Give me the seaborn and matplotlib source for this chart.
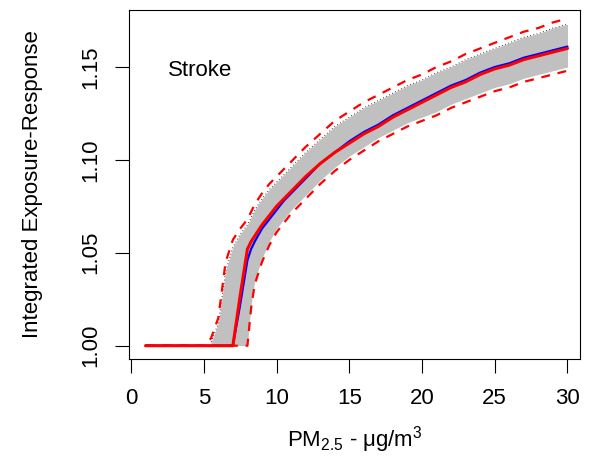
import matplotlib
matplotlib.use("Agg")
import matplotlib.pyplot as plt
import seaborn as sns
import numpy as np
import pandas as pd

# ---- data ----
pm = [1, 2, 3, 4, 5, 5.5, 6, 6.5, 7, 7.5, 8, 8.25, 8.5, 9, 9.5, 10, 10.5, 11, 12, 13, 14, 15,
      16, 17, 18, 19, 20, 21, 22, 23, 24, 25, 26, 27, 28, 29, 30]
ier_central = [1.000, 1.000, 1.000, 1.000, 1.000, 1.000, 1.000, 1.000, 1.000, 1.027, 1.052, 1.056,
               1.059, 1.065, 1.070, 1.075, 1.079, 1.083, 1.091, 1.098, 1.104, 1.109,
               1.114, 1.118, 1.123, 1.127, 1.131, 1.135, 1.139, 1.142, 1.146, 1.149,
               1.151, 1.154, 1.156, 1.158, 1.160]
ier_mean = [1.000, 1.000, 1.000, 1.000, 1.000, 1.000, 1.000, 1.000, 1.000, 1.022, 1.046, 1.052,
            1.056, 1.063, 1.068, 1.073, 1.078, 1.082, 1.090, 1.098, 1.104, 1.110,
            1.115, 1.119, 1.124, 1.128, 1.132, 1.136, 1.140, 1.143, 1.147, 1.150,
            1.152, 1.155, 1.157, 1.159, 1.161]
ier_upper = [1.000, 1.000, 1.000, 1.000, 1.000, 1.004, 1.015, 1.045, 1.057, 1.063, 1.068, 1.072,
             1.076, 1.082, 1.087, 1.091, 1.095, 1.099, 1.107, 1.114, 1.121, 1.126,
             1.131, 1.135, 1.139, 1.143, 1.146, 1.150, 1.153, 1.157, 1.160, 1.163,
             1.166, 1.169, 1.171, 1.174, 1.176]
ier_lower = [1.000, 1.000, 1.000, 1.000, 1.000, 1.000, 1.000, 1.000, 1.000, 1.000, 1.000, 1.020,
             1.033, 1.045, 1.054, 1.061, 1.066, 1.071, 1.079, 1.087, 1.094, 1.100,
             1.105, 1.110, 1.114, 1.118, 1.121, 1.124, 1.128, 1.131, 1.134, 1.137,
             1.139, 1.142, 1.144, 1.146, 1.148]
band_hi = [np.nan, np.nan, np.nan, np.nan, np.nan, 1.002, 1.012, 1.040, 1.053, 1.060, 1.065, 1.069,
           1.073, 1.079, 1.084, 1.088, 1.092, 1.096, 1.104, 1.111, 1.118, 1.123,
           1.128, 1.132, 1.136, 1.140, 1.143, 1.147, 1.150, 1.154, 1.157, 1.160,
           1.163, 1.166, 1.168, 1.171, 1.173]
band_lo = [np.nan, np.nan, np.nan, np.nan, np.nan, 1.000, 1.000, 1.000, 1.000, 1.000, 1.000, 1.022,
           1.035, 1.047, 1.056, 1.063, 1.068, 1.073, 1.081, 1.089, 1.096, 1.102,
           1.107, 1.112, 1.116, 1.120, 1.123, 1.126, 1.130, 1.133, 1.136, 1.139,
           1.141, 1.144, 1.146, 1.148, 1.150]
x_ticks = [0, 5, 10, 15, 20, 25, 30]
y_ticks = [1.00, 1.05, 1.10, 1.15]
panel_label = "Stroke"

df = pd.DataFrame({"pm": pm, "central": ier_central, "mean": ier_mean,
                   "upper": ier_upper, "lower": ier_lower,
                   "hi": band_hi, "lo": band_lo})

sns.set_theme(style="white")
plt.rcParams["font.family"] = ["Liberation Sans", "DejaVu Sans"]
plt.rcParams["mathtext.fontset"] = "custom"
plt.rcParams["mathtext.rm"] = "Liberation Sans"
plt.rcParams["mathtext.it"] = "Liberation Sans"
plt.rcParams["mathtext.default"] = "regular"
plt.rcParams["text.color"] = "black"
plt.rcParams["axes.labelcolor"] = "black"

FS = 16
fig = plt.figure(figsize=(5.99, 4.65), dpi=100)
ax = fig.add_axes([129/599, 1 - 359/465, (580-129)/599, (359-10)/465])

ax.fill_between(df["pm"], df["lo"], df["hi"], color="#c0c0c0", linewidth=0, zorder=1)
ax.plot(df["pm"], df["hi"], color="black", linestyle=(0, (1, 3)), linewidth=0.6, zorder=2)
sns.lineplot(data=df, x="pm", y="upper", ax=ax, color="red", linewidth=1.6,
             linestyle=(0, (4, 3.5)), zorder=3)
sns.lineplot(data=df, x="pm", y="lower", ax=ax, color="red", linewidth=1.6,
             linestyle=(0, (4, 3.5)), zorder=3)
sns.lineplot(data=df, x="pm", y="mean", ax=ax, color="blue", linewidth=1.6, zorder=4)
sns.lineplot(data=df, x="pm", y="central", ax=ax, color="red", linewidth=2.2, zorder=5)

ax.set_xlim(-0.14, 30.86)
ax.set_ylim(0.99284, 1.18068)
ax.set_xticks(x_ticks)
ax.set_xticklabels([str(t) for t in x_ticks])
ax.set_yticks(y_ticks)
ax.set_yticklabels([f"{t:.2f}" for t in y_ticks], rotation=90, va="center")

for s in ax.spines.values():
    s.set_color("black")
    s.set_linewidth(0.8)

ax.tick_params(axis="both", which="major", direction="out", length=10, width=0.8,
               color="black", labelsize=FS, labelcolor="black")
ax.tick_params(axis="x", pad=11, bottom=True)
ax.tick_params(axis="y", pad=10, left=True)

ax.set_xlabel(r"PM$_{2.5}$ - μg/m$^{3}$", fontsize=FS, va="center")
ax.xaxis.set_label_coords(0.5, -(440-359)/349)
ax.set_ylabel("Integrated Exposure-Response", fontsize=FS, va="center")
ax.yaxis.set_label_coords(-(129-33)/451, 0.5)

ax.text(4.75, 1.148, panel_label, fontsize=FS, ha="center", va="center")

fig.savefig("out.png", dpi=100)
